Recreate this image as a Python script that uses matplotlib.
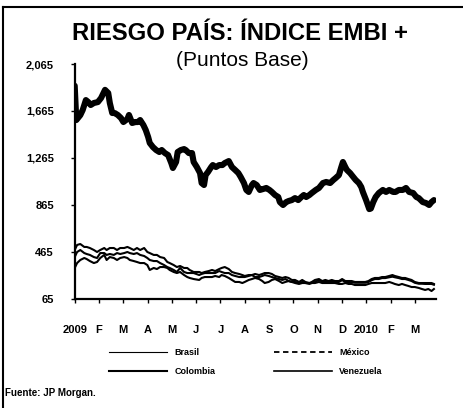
import matplotlib
matplotlib.use("Agg")
import matplotlib.pyplot as plt
from matplotlib.lines import Line2D
import numpy as np

# ---------------- data ----------------
# days since 1 Jan 2009
venezuela_days = [0, 2, 7, 10, 14, 17, 20, 24, 29, 33, 38, 42, 44, 47, 50, 54, 58, 61, 66, 68,
                  72, 76, 79, 82, 86, 89, 92, 94, 98, 102, 106, 109, 113, 117, 121, 123, 127, 129, 133, 137,
                  139, 143, 147, 149, 153, 157, 159, 162, 164, 167, 171, 173, 177, 181, 185, 188, 193, 197, 201, 205,
                  208, 212, 215, 218, 222, 224, 228, 232, 236, 240, 244, 247, 251, 255, 257, 261, 265, 268, 272, 276,
                  280, 284, 287, 290, 294, 297, 302, 306, 311, 315, 320, 324, 327, 331, 334, 336, 339, 341, 345, 349,
                  352, 356, 359, 361, 365, 369, 371, 374, 377, 381, 386, 390, 394, 399, 402, 406, 411, 415, 419, 424,
                  428, 431, 436, 440, 444, 447, 450]
venezuela = [1880, 1588, 1630, 1673, 1758, 1741, 1716, 1733, 1741, 1775, 1845, 1818, 1733, 1648, 1648, 1631, 1605, 1571, 1597, 1631,
             1563, 1571, 1571, 1588, 1546, 1503, 1444, 1393, 1358, 1333, 1316, 1333, 1307, 1290, 1222, 1180, 1231, 1316, 1333, 1341,
             1333, 1307, 1307, 1231, 1188, 1137, 1052, 1035, 1120, 1146, 1188, 1205, 1188, 1205, 1205, 1222, 1239, 1188, 1163, 1137,
             1103, 1052, 993, 976, 1035, 1052, 1035, 993, 1001, 1010, 993, 976, 950, 933, 890, 865, 890, 899, 907, 924,
             907, 933, 950, 933, 950, 967, 993, 1010, 1052, 1061, 1052, 1078, 1095, 1120, 1188, 1231, 1188, 1163, 1137, 1103,
             1078, 1052, 1018, 976, 907, 830, 835, 890, 933, 967, 993, 976, 993, 976, 976, 993, 993, 1010, 976, 967,
             933, 924, 890, 882, 865, 890, 907]

lat_days = [0, 3, 7, 12, 15, 19, 24, 28, 32, 37, 40, 44, 49, 53, 57, 62, 66, 69, 74, 78,
            82, 87, 91, 94, 99, 103, 107, 112, 116, 119, 124, 128, 132, 137, 141, 144, 149,
            156, 159, 163, 168, 172, 176, 181, 184, 188, 193, 197, 201, 206, 210, 213, 218, 222, 226,
            231, 235, 238, 243, 247, 251, 256, 260, 264, 268, 272, 276, 281, 285, 289, 294, 297, 301,
            306, 310, 314, 318, 322, 326, 331, 335, 339, 343, 347, 351, 356, 360, 364, 368, 372, 376,
            381, 385, 389, 394, 398, 401, 406, 410, 414, 418, 422, 426, 431, 435, 439, 443, 447, 450]

colombia = [482, 525, 533, 508, 508, 499, 482, 465, 482, 499, 482, 499, 499, 482, 499, 499, 508, 499, 482, 499,
            482, 499, 465, 456, 440, 440, 422, 414, 380, 371, 354, 337, 346, 329, 329, 312, 295,
            295, 286, 295, 303, 312, 303, 320, 329, 337, 320, 295, 286, 278, 269, 261, 269, 269, 278,
            269, 278, 286, 286, 278, 261, 252, 244, 252, 244, 227, 227, 210, 227, 210, 201, 210, 227,
            235, 218, 227, 218, 227, 218, 218, 235, 218, 218, 218, 210, 210, 210, 210, 218, 235, 244,
            244, 252, 252, 261, 269, 261, 252, 244, 244, 235, 227, 210, 201, 201, 201, 201, 201, 193]

brasil = [422, 465, 482, 456, 448, 440, 422, 414, 456, 456, 440, 448, 440, 456, 448, 456, 465, 456, 448, 456,
          440, 431, 414, 397, 388, 388, 371, 354, 337, 329, 312, 295, 329, 295, 286, 286, 286,
          269, 278, 286, 286, 286, 286, 303, 295, 286, 286, 269, 261, 252, 252, 252, 261, 269, 252,
          252, 261, 269, 261, 252, 244, 235, 227, 235, 218, 210, 210, 201, 210, 201, 201, 201, 210,
          227, 212, 218, 212, 218, 210, 210, 225, 210, 210, 210, 203, 203, 203, 203, 210, 225, 235,
          235, 243, 243, 250, 255, 250, 243, 235, 235, 227, 218, 203, 195, 195, 193, 193, 193, 186]

mexico = [329, 371, 397, 414, 405, 388, 371, 380, 414, 440, 397, 422, 414, 397, 414, 422, 414, 397, 388, 380,
          371, 371, 354, 312, 329, 320, 337, 337, 329, 312, 295, 286, 295, 269, 252, 244, 235,
          227, 244, 252, 252, 252, 261, 252, 269, 261, 244, 227, 210, 210, 201, 210, 227, 235, 244,
          235, 218, 201, 210, 227, 235, 218, 201, 210, 218, 210, 201, 193, 201, 201, 193, 201, 201,
          210, 201, 201, 201, 201, 201, 193, 193, 201, 193, 193, 184, 184, 184, 184, 193, 201, 201,
          201, 201, 201, 210, 201, 193, 184, 193, 184, 176, 167, 167, 159, 150, 142, 150, 133, 150]

month_labels = ['2009', 'F', 'M', 'A', 'M', 'J', 'J', 'A', 'S', 'O', 'N', 'D', '2010', 'F', 'M']
y_ticks = [65, 465, 865, 1265, 1665, 2065]
y_tick_labels = ['65', '465', '865', '1,265', '1,665', '2,065']

title = 'RIESGO PAÍS: ÍNDICE EMBI +'
subtitle = '(Puntos Base)'
source = 'Fuente: JP Morgan.'

# ---------------- figure ----------------
W, H = 464, 408
fig = plt.figure(figsize=(W / 100, H / 100), dpi=100)
fig.patch.set_facecolor('white')

ax = fig.add_axes([74.7 / W, 1 - 299 / H, (436 - 74.7) / W, (299 - 64) / H])

MONTH = 30.44
ax.plot(lat_days, colombia, color='black', lw=1.5, solid_joinstyle='round')
ax.plot(lat_days, brasil, color='black', lw=1.5, solid_joinstyle='round')
ax.plot(lat_days, mexico, color='black', lw=1.5, solid_joinstyle='round')
ax.plot(venezuela_days, venezuela, color='black', lw=4.4, solid_joinstyle='round', solid_capstyle='round')

ax.set_xlim(0, 452.6)
ax.set_ylim(65, 2065)
ax.set_yticks(y_ticks)
ax.set_yticklabels(y_tick_labels)
ax.set_xticks([i * MONTH for i in range(len(month_labels))])
ax.set_xticklabels(month_labels)

for s in ['top', 'right']:
    ax.spines[s].set_visible(False)
for s in ['left', 'bottom']:
    ax.spines[s].set_linewidth(1.6)
ax.tick_params(axis='y', direction='out', length=3, width=1, pad=12)
ax.tick_params(axis='x', direction='out', length=3, width=1, pad=16)
for lbl in ax.get_yticklabels() + ax.get_xticklabels():
    lbl.set_fontfamily(['Liberation Sans', 'DejaVu Sans'])
    lbl.set_fontweight('bold')
    lbl.set_fontsize(8)

fig.text(240 / W, 1 - 33 / H, title, ha='center', va='center',
         fontsize=17.2, fontweight='bold', family=['Liberation Sans', 'DejaVu Sans'])
fig.text(242 / W, 1 - 60 / H, subtitle, ha='center', va='center',
         fontsize=15, family=['Liberation Sans', 'DejaVu Sans'])

# legend: row 1 Brasil / México, row 2 Colombia / Venezuela (column-major order)
h_brasil = Line2D([], [], color='black', lw=0.8)
h_mexico = Line2D([], [], color='black', lw=1.3, ls=(0, (3, 2)))
h_colombia = Line2D([], [], color='black', lw=1.5)
h_venezuela = Line2D([], [], color='black', lw=1.2)
leg = fig.legend([h_brasil, h_colombia, h_mexico, h_venezuela],
                 ['Brasil', 'Colombia', 'México', 'Venezuela'],
                 ncol=2, loc='center', bbox_to_anchor=(246 / W, 1 - 362 / H),
                 frameon=False, handlelength=6.4, handletextpad=0.8, columnspacing=6.5,
                 labelspacing=1.1, borderpad=0,
                 prop={'family': ['Liberation Sans Narrow', 'Liberation Sans'], 'weight': 'bold', 'size': 6.5})

fig.text(5 / W, 1 - 393 / H, source, ha='left', va='center', fontsize=7, fontweight='bold',
         family=['Liberation Sans Narrow', 'Liberation Sans'])

# outer frame (top and left)
fig.add_artist(Line2D([3 / W, 3 / W], [0, 1 - 7 / H], color='black', lw=1.5, transform=fig.transFigure))
fig.add_artist(Line2D([3 / W, 1], [1 - 7 / H, 1 - 7 / H], color='black', lw=1.5, transform=fig.transFigure))

fig.savefig('out.png', dpi=100)
